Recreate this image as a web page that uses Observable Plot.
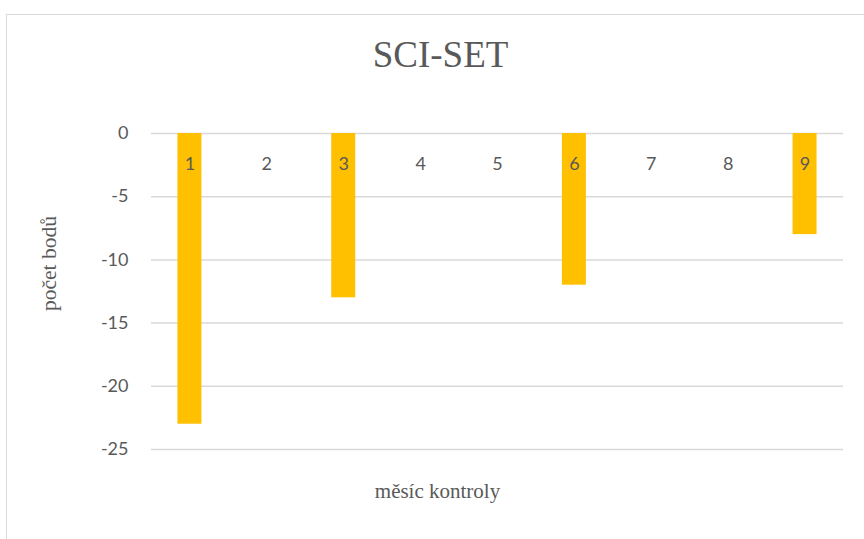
<!DOCTYPE html>
<html>
<head>
<meta charset="utf-8">
<script src="https://cdn.jsdelivr.net/npm/d3@7"></script>
<script src="https://cdn.jsdelivr.net/npm/@observablehq/plot@0.6"></script>
<style>
  html, body { margin: 0; padding: 0; background: #fff; overflow: hidden; }
  #wrap { position: relative; width: 864px; height: 539px; }
  #border { position: absolute; left: 6px; top: 14px; width: 900px; height: 600px;
            border: 1.5px solid #d9d9d9; box-sizing: border-box; pointer-events: none; }
  #chart { position: absolute; left: 0; top: 0; }
</style>
</head>
<body>
<div id="wrap">
  <div id="border"></div>
  <div id="chart"></div>
</div>
<script>
// Monthly SCI-SET score changes
const months = ["1", "2", "3", "4", "5", "6", "7", "8", "9"];
const points = [-23, 0, -13, 0, 0, -12, 0, 0, -8];
const yTicks = [0, -5, -10, -15, -20, -25];

const title = "SCI-SET";
const xLabel = "měsíc kontroly";
const yLabel = "počet bodů";

const rows = months.map((m, i) => ({month: m, value: points[i]}));

const sans = "Lato, 'Open Sans', sans-serif";
const serif = "'Liberation Serif', 'DejaVu Serif', serif";
const grey = "#595959";

const chart = Plot.plot({
  width: 864,
  height: 539,
  marginLeft: 151,
  marginRight: 21,
  marginTop: 133,
  marginBottom: 90,
  style: {background: "transparent", color: grey, fontFamily: sans},
  x: {domain: months, paddingInner: 0.688, paddingOuter: 0.344, round: false, axis: null},
  y: {domain: [-25, 0], axis: null},
  marks: [
    Plot.ruleY(yTicks, {stroke: "#d9d9d9", strokeWidth: 1.5}),
    Plot.barY(rows, {x: "month", y: "value", fill: "#FFC000"}),
    Plot.axisY(yTicks, {
      tickSize: 0, tickPadding: 23, fontSize: 18, fill: grey,
      fontFamily: sans, label: null, tickFormat: d => String(d)
    }),
    // category labels sit just below the zero line
    Plot.text(rows, {
      x: "month", y: () => 0, text: "month", dy: 31,
      fontSize: 18, fill: grey, fontFamily: sans
    }),
    Plot.text([title], {
      frameAnchor: "top", dx: -57, dy: -78, fontSize: 37, fill: grey,
      fontFamily: serif, lineAnchor: "middle"
    }),
    Plot.text([xLabel], {
      frameAnchor: "bottom", dy: 42, dx: -60, fontSize: 21, fill: grey,
      fontFamily: serif, lineAnchor: "middle"
    }),
    Plot.text([yLabel], {
      frameAnchor: "left", textAnchor: "middle", dx: -102, dy: -28, rotate: -90,
      fontSize: 21.5, fill: grey, fontFamily: serif, lineAnchor: "middle"
    })
  ]
});

document.getElementById("chart").appendChild(chart);
</script>
</body>
</html>
